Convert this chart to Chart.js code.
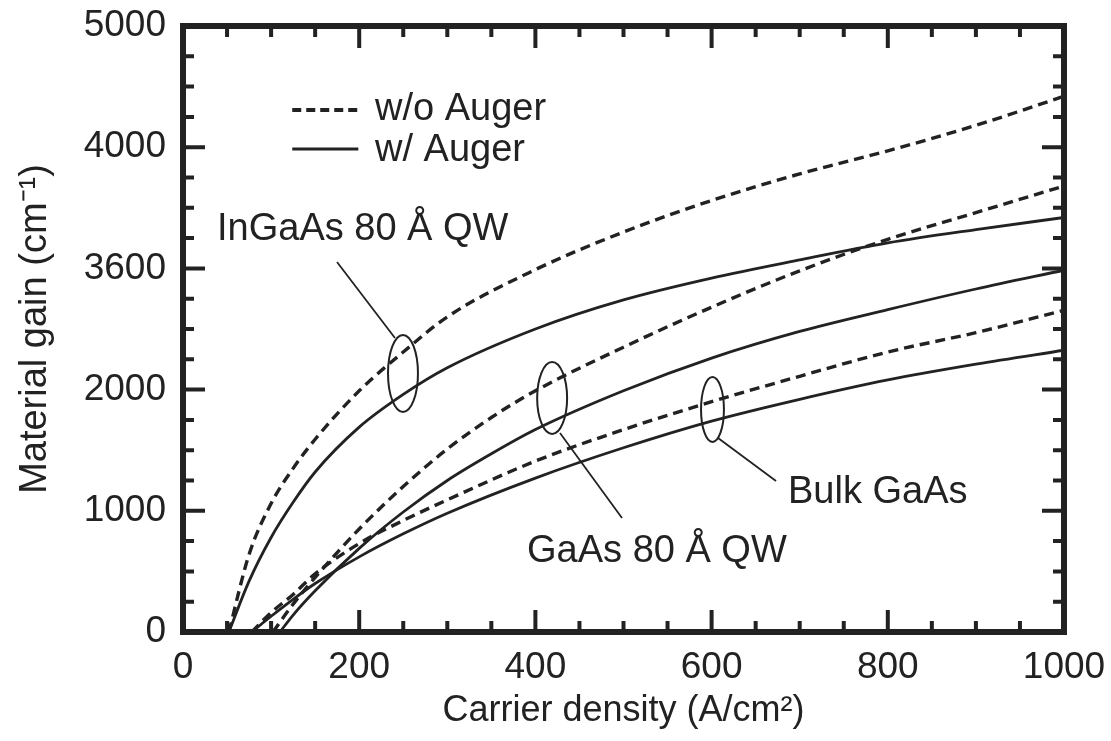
<!DOCTYPE html>
<html>
<head>
<meta charset="utf-8">
<script src="https://cdn.jsdelivr.net/npm/chart.js@4.4.1/dist/chart.umd.min.js"></script>
<style>
  html, body { margin: 0; padding: 0; background: #fff; }
  #gainChart { display: block; }
</style>
</head>
<body>
<canvas id="gainChart" width="1111" height="741"></canvas>
<script>
// gain curves, current density in A/cm^2, gain in cm^-1
const ingaasX = [52, 75, 100, 125, 150, 200, 250, 300, 400, 500, 600, 700, 800, 900, 1000];
const ingaasNoAuger = [0, 640, 1060, 1350, 1590, 1990, 2310, 2600, 2990, 3300, 3560, 3780, 3970, 4180, 4420];
const ingaasAuger = [0, 420, 780, 1070, 1320, 1690, 1960, 2180, 2500, 2740, 2920, 3070, 3210, 3320, 3420];

const gaasQwNoAugerX = [102, 125, 150, 200, 250, 300, 350, 400, 500, 600, 700, 800, 900, 1000];
const gaasQwNoAuger = [0, 230, 450, 850, 1200, 1510, 1770, 1990, 2350, 2680, 2980, 3240, 3460, 3680];
const gaasQwAugerX = [110, 125, 150, 200, 250, 300, 350, 400, 500, 600, 700, 800, 900, 1000];
const gaasQwAuger = [0, 140, 340, 690, 990, 1250, 1470, 1670, 1990, 2260, 2480, 2660, 2830, 2985];

const bulkX = [78, 100, 125, 150, 200, 250, 300, 400, 500, 600, 700, 800, 900, 1000];
const bulkNoAuger = [0, 160, 310, 480, 730, 920, 1090, 1410, 1670, 1900, 2110, 2310, 2470, 2655];
const bulkAuger = [0, 130, 270, 400, 620, 810, 980, 1270, 1520, 1740, 1920, 2080, 2210, 2325];

const yTickLabels = ['0', '1000', '2000', '3600', '4000', '5000'];
const legendLabels = ['w/o Auger', 'w/ Auger'];
const curveLabels = ['InGaAs 80 Å QW', 'GaAs 80 Å QW', 'Bulk GaAs'];

const INK = '#222';
const FONT = '"Liberation Sans", Arial, Helvetica, sans-serif';

function pts(xs, ys) {
  return xs.map((x, i) => ({ x: x, y: ys[i] }));
}

function curve(label, xs, ys, dashed) {
  return {
    label: label,
    data: pts(xs, ys),
    showLine: true,
    borderColor: INK,
    borderWidth: dashed ? 3.4 : 2.8,
    borderDash: dashed ? [10, 6] : [],
    pointRadius: 0,
    cubicInterpolationMode: 'monotone',
    fill: false
  };
}

// keep the plot box fixed: no extra room for overhanging tick labels
function noOverhang(scale) {
  scale.paddingLeft = 0;
  scale.paddingRight = 0;
  scale.paddingTop = 0;
  scale.paddingBottom = 0;
}

// frame, inward ticks and the hand-placed labels
const decorations = {
  id: 'decorations',
  afterDatasetsDraw(chart) {
    const ctx = chart.ctx;
    const xs = chart.scales.x;
    const ys = chart.scales.y;
    const a = chart.chartArea;
    const px = v => xs.getPixelForValue(v);
    const py = v => ys.getPixelForValue(v);

    ctx.save();
    ctx.strokeStyle = INK;
    ctx.fillStyle = INK;

    // ticks
    ctx.lineWidth = 4;
    ctx.lineCap = 'butt';
    xs.ticks.forEach(t => {
      const len = t.value % 200 === 0 ? 22 : 11;
      const x = px(t.value);
      ctx.beginPath();
      ctx.moveTo(x, a.bottom); ctx.lineTo(x, a.bottom - len);
      ctx.moveTo(x, a.top); ctx.lineTo(x, a.top + len);
      ctx.stroke();
    });
    ys.ticks.forEach(t => {
      const len = t.value % 1000 === 0 ? 22 : 11;
      const y = py(t.value);
      ctx.beginPath();
      ctx.moveTo(a.left, y); ctx.lineTo(a.left + len, y);
      ctx.moveTo(a.right, y); ctx.lineTo(a.right - len, y);
      ctx.stroke();
    });

    // frame
    ctx.lineWidth = 6;
    ctx.strokeRect(a.left, a.top, a.right - a.left, a.bottom - a.top);

    // legend
    ctx.lineWidth = 4;
    ctx.setLineDash([9, 5]);
    ctx.beginPath();
    ctx.moveTo(px(124), py(4307)); ctx.lineTo(px(199), py(4307));
    ctx.stroke();
    ctx.setLineDash([]);
    ctx.lineWidth = 3;
    ctx.beginPath();
    ctx.moveTo(px(124), py(3985)); ctx.lineTo(px(199), py(3985));
    ctx.stroke();

    ctx.font = '38px ' + FONT;
    ctx.textBaseline = 'alphabetic';
    ctx.textAlign = 'left';
    ctx.fillText(legendLabels[0], px(218), py(4224));
    ctx.fillText(legendLabels[1], px(218), py(3886));

    // curve group labels
    ctx.fillText(curveLabels[0], px(38.6), py(3234));
    ctx.fillText(curveLabels[1], px(390.5), py(578));
    ctx.fillText(curveLabels[2], px(686.7), py(1064));

    // ellipses around each pair of curves
    const ellipses = [
      [249.7, 2133, 17, 318],
      [419, 1931, 17, 297],
      [601, 1836, 13, 268]
    ];
    ctx.lineWidth = 2;
    ellipses.forEach(e => {
      const cx = px(e[0]), cy = py(e[1]);
      const rx = px(e[0] + e[2]) - cx;
      const ry = cy - py(e[1] + e[3]);
      ctx.beginPath();
      ctx.ellipse(cx, cy, rx, ry, 0, 0, Math.PI * 2);
      ctx.stroke();
    });

    // leader lines
    const leaders = [
      [174.8, 3053, 240.6, 2426],
      [427.9, 1642, 498.3, 941],
      [607.3, 1601, 673.1, 1246]
    ];
    ctx.lineWidth = 1.8;
    leaders.forEach(l => {
      ctx.beginPath();
      ctx.moveTo(px(l[0]), py(l[1]));
      ctx.lineTo(px(l[2]), py(l[3]));
      ctx.stroke();
    });

    ctx.restore();
  }
};

const ctx = document.getElementById('gainChart').getContext('2d');
new Chart(ctx, {
  type: 'scatter',
  data: {
    datasets: [
      curve('InGaAs w/o Auger', ingaasX, ingaasNoAuger, true),
      curve('InGaAs w/ Auger', ingaasX, ingaasAuger, false),
      curve('GaAs QW w/o Auger', gaasQwNoAugerX, gaasQwNoAuger, true),
      curve('GaAs QW w/ Auger', gaasQwAugerX, gaasQwAuger, false),
      curve('Bulk w/o Auger', bulkX, bulkNoAuger, true),
      curve('Bulk w/ Auger', bulkX, bulkAuger, false)
    ]
  },
  options: {
    responsive: false,
    devicePixelRatio: 1,
    animation: false,
    layout: { padding: { left: 0, right: 47, top: 26, bottom: 0 } },
    plugins: {
      legend: { display: false },
      tooltip: { enabled: false }
    },
    scales: {
      x: {
        type: 'linear',
        min: 0,
        max: 1000,
        grid: { display: false, drawTicks: false },
        border: { display: false },
        afterFit(scale) { scale.height = 109; noOverhang(scale); },
        ticks: {
          stepSize: 50,
          autoSkip: false,
          maxRotation: 0,
          padding: 14,
          color: INK,
          font: { family: FONT, size: 37 },
          callback: v => (v % 200 === 0 ? String(v) : '')
        },
        title: {
          display: true,
          text: 'Carrier density (A/cm²)',
          color: INK,
          font: { family: FONT, size: 36 },
          padding: { top: 0, bottom: 8 }
        }
      },
      y: {
        min: 0,
        max: 5000,
        grid: { display: false, drawTicks: false },
        border: { display: false },
        afterFit(scale) { scale.width = 183; noOverhang(scale); },
        ticks: {
          stepSize: 250,
          autoSkip: false,
          padding: 17,
          color: INK,
          font: { family: FONT, size: 37 },
          callback: v => (v % 1000 === 0 ? yTickLabels[v / 1000] : '')
        },
        title: {
          display: true,
          text: 'Material gain (cm⁻¹)',
          color: INK,
          font: { family: FONT, size: 38 },
          padding: { top: 13, bottom: 0 }
        }
      }
    }
  },
  plugins: [decorations]
});
</script>
</body>
</html>
